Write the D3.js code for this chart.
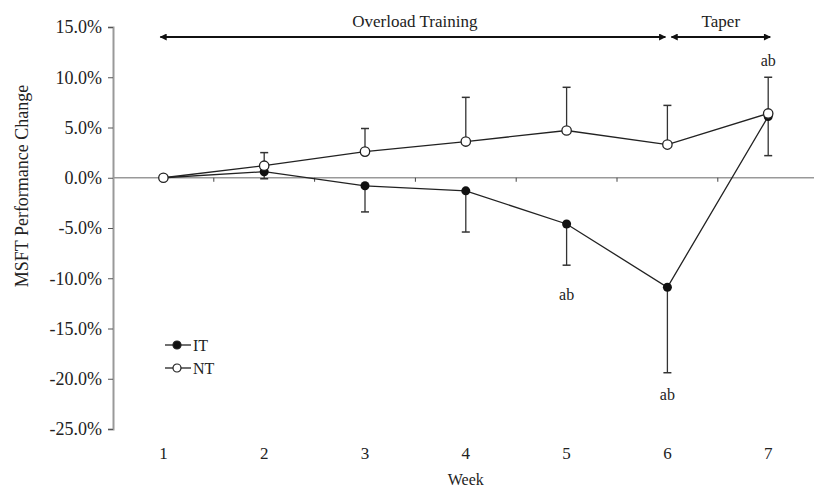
<!DOCTYPE html>
<html>
<head>
<meta charset="utf-8">
<script src="https://cdn.jsdelivr.net/npm/d3@7"></script>
<style>
  body { margin: 0; background: #fff; }
</style>
</head>
<body>
<div id="chart"></div>
<script>
// data (percent change)
var weeks = [1, 2, 3, 4, 5, 6, 7];
var itValues = [0, 0.6, -0.8, -1.3, -4.6, -10.9, 6.1];
var itErrLow = [0, -0.1, -3.4, -5.4, -8.7, -19.4, 2.2];
var ntValues = [0, 1.2, 2.6, 3.6, 4.7, 3.3, 6.4];
var ntErrHigh = [0, 2.5, 4.9, 8.0, 9.0, 7.2, 10.0];
var yTicks = [15, 10, 5, 0, -5, -10, -15, -20, -25];
var sigMarks = [
  { week: 5, value: -11.6, label: "ab" },
  { week: 6, value: -21.6, label: "ab" },
  { week: 7, value: 11.7, label: "ab" }
];
var phases = [
  { name: "Overload Training", from: 0.97, to: 5.98 },
  { name: "Taper", from: 6.04, to: 7.02 }
];

var SERIF = "'Liberation Serif', 'Times New Roman', Times, 'DejaVu Serif', serif";
var W = 814, H = 488;
var svg = d3.select("#chart").append("svg")
  .attr("width", W)
  .attr("height", H)
  .style("font-family", SERIF);

var x = d3.scaleLinear().domain([0.5, 7.5]).range([113, 818.6]);
var y = d3.scaleLinear().domain([-25, 15]).range([429, 27]);

// y axis
var yAxis = svg.append("g")
  .attr("transform", "translate(113,0)")
  .call(d3.axisLeft(y).tickValues(yTicks).tickSize(5).tickPadding(6)
    .tickFormat(function(d) { return d.toFixed(1) + "%"; }));
yAxis.attr("font-family", null);
yAxis.select(".domain").attr("stroke", "#999").attr("stroke-width", 2);
yAxis.selectAll(".tick line").attr("stroke", "#555");
yAxis.selectAll(".tick text")
  .style("font-family", SERIF)
  .style("font-size", "18px").attr("fill", "#222");

// zero line with ticks between weeks
svg.append("line")
  .attr("x1", x(0.5)).attr("x2", W)
  .attr("y1", y(0)).attr("y2", y(0))
  .attr("stroke", "#999").attr("stroke-width", 1.5);
var midTicks = [1.5, 2.5, 3.5, 4.5, 5.5, 6.5];
svg.selectAll(".mid-tick")
  .data(midTicks)
  .enter().append("line")
  .attr("class", "mid-tick")
  .attr("x1", function(d) { return x(d); })
  .attr("x2", function(d) { return x(d); })
  .attr("y1", y(0)).attr("y2", y(0) + 4)
  .attr("stroke", "#444");

// week labels
svg.selectAll(".week-label")
  .data(weeks)
  .enter().append("text")
  .attr("class", "week-label")
  .attr("x", function(d) { return x(d); })
  .attr("y", 459)
  .attr("text-anchor", "middle")
  .attr("fill", "#222")
  .style("font-size", "17px")
  .text(function(d) { return d; });

svg.append("text")
  .attr("x", x(4)).attr("y", 485)
  .attr("text-anchor", "middle")
  .attr("fill", "#222")
  .style("font-size", "16px")
  .text("Week");

svg.append("text")
  .attr("transform", "translate(28,186) rotate(-90)")
  .attr("text-anchor", "middle")
  .attr("fill", "#222")
  .style("font-size", "18px")
  .text("MSFT Performance Change");

// phase arrows
var defs = svg.append("defs");
defs.append("marker")
  .attr("id", "arrow")
  .attr("viewBox", "0 0 10 10")
  .attr("refX", 9).attr("refY", 5)
  .attr("markerWidth", 9).attr("markerHeight", 7)
  .attr("markerUnits", "userSpaceOnUse")
  .attr("orient", "auto-start-reverse")
  .append("path")
  .attr("d", "M0,0 L10,5 L0,10 Z")
  .attr("fill", "#111");

var phaseG = svg.selectAll(".phase")
  .data(phases)
  .enter().append("g")
  .attr("class", "phase");
phaseG.append("line")
  .attr("x1", function(d) { return x(d.from); })
  .attr("x2", function(d) { return x(d.to); })
  .attr("y1", 37).attr("y2", 37)
  .attr("stroke", "#111").attr("stroke-width", 2)
  .attr("marker-start", "url(#arrow)")
  .attr("marker-end", "url(#arrow)");
phaseG.append("text")
  .attr("x", function(d) { return (x(d.from) + x(d.to)) / 2 + (d.name === "Taper" ? 0 : 2); })
  .attr("y", 27)
  .attr("text-anchor", "middle")
  .attr("fill", "#222")
  .style("font-size", "17px")
  .text(function(d) { return d.name; });

// error bars
function errBars(vals, ends, cls) {
  var g = svg.append("g").attr("class", cls);
  weeks.forEach(function(w, i) {
    if (vals[i] === ends[i]) return;
    g.append("line")
      .attr("x1", x(w)).attr("x2", x(w))
      .attr("y1", y(vals[i])).attr("y2", y(ends[i]))
      .attr("stroke", "#333").attr("stroke-width", 1.3);
    g.append("line")
      .attr("x1", x(w) - 4).attr("x2", x(w) + 4)
      .attr("y1", y(ends[i])).attr("y2", y(ends[i]))
      .attr("stroke", "#333").attr("stroke-width", 1.5);
  });
}
errBars(ntValues, ntErrHigh, "nt-err");
errBars(itValues, itErrLow, "it-err");

var line = d3.line()
  .x(function(d, i) { return x(weeks[i]); })
  .y(function(d) { return y(d); });

svg.append("path")
  .attr("d", line(itValues))
  .attr("fill", "none").attr("stroke", "#222").attr("stroke-width", 1.3);
svg.append("path")
  .attr("d", line(ntValues))
  .attr("fill", "none").attr("stroke", "#222").attr("stroke-width", 1.3);

svg.selectAll(".it-pt")
  .data(itValues)
  .enter().append("circle")
  .attr("class", "it-pt")
  .attr("cx", function(d, i) { return x(weeks[i]); })
  .attr("cy", function(d) { return y(d); })
  .attr("r", 4.5)
  .attr("fill", "#111");

svg.selectAll(".nt-pt")
  .data(ntValues)
  .enter().append("circle")
  .attr("class", "nt-pt")
  .attr("cx", function(d, i) { return x(weeks[i]); })
  .attr("cy", function(d) { return y(d); })
  .attr("r", 4.7)
  .attr("fill", "#fff").attr("stroke", "#222").attr("stroke-width", 1.3);

// significance labels
svg.selectAll(".sig")
  .data(sigMarks)
  .enter().append("text")
  .attr("class", "sig")
  .attr("x", function(d) { return x(d.week); })
  .attr("y", function(d) { return y(d.value); })
  .attr("text-anchor", "middle")
  .attr("dy", "0.35em")
  .attr("fill", "#222")
  .style("font-size", "16px")
  .text(function(d) { return d.label; });

// legend
var legend = [{ name: "IT", fill: "#111" }, { name: "NT", fill: "#fff" }];
var lg = svg.selectAll(".legend")
  .data(legend)
  .enter().append("g")
  .attr("class", "legend")
  .attr("transform", function(d, i) { return "translate(165," + (345 + i * 23) + ")"; });
lg.append("line")
  .attr("x1", 0).attr("x2", 26)
  .attr("stroke", "#222").attr("stroke-width", 1.3);
lg.append("circle")
  .attr("cx", 12).attr("r", 4)
  .attr("fill", function(d) { return d.fill; })
  .attr("stroke", "#222").attr("stroke-width", 1.2);
lg.append("text")
  .attr("x", 28).attr("dy", "0.35em")
  .attr("fill", "#222")
  .style("font-size", "16px")
  .text(function(d) { return d.name; });
</script>
</body>
</html>
